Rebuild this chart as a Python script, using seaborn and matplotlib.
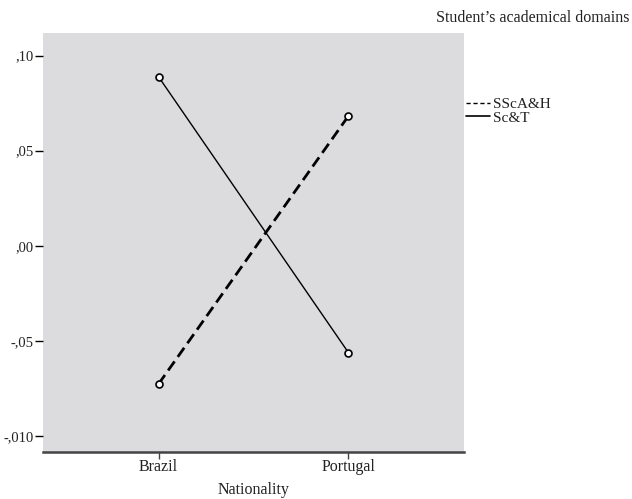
import matplotlib
matplotlib.use("Agg")
import matplotlib.pyplot as plt
import seaborn as sns
import pandas as pd
from matplotlib.lines import Line2D

# Data
nationalities = ["Brazil", "Portugal"]
domains = ["SScA&H", "Sc&T"]
sscah_values = [-0.0728, 0.0683]
sct_values = [0.0889, -0.0563]
ytick_values = [0.10, 0.05, 0.00, -0.05, -0.10]
ytick_labels = [",10", ",05", ",00", "-,05", "-,010"]
legend_title = "Student\u2019s academical domains"
x_label = "Nationality"

df = pd.DataFrame({
    "Nationality": nationalities * 2,
    "Domain": [domains[0]] * 2 + [domains[1]] * 2,
    "Mean": sscah_values + sct_values,
})

sns.set_theme(style="white")
plt.rcParams["font.family"] = ["Liberation Serif", "DejaVu Serif"]

fig = plt.figure(figsize=(6.32, 4.99), dpi=100)
ax = fig.add_axes([43 / 632, 1 - 452.3 / 499, (464 - 43) / 632, (452.3 - 33) / 499])
ax.set_facecolor("#dcdcde")

sub1 = df[df["Domain"] == domains[0]]
sub2 = df[df["Domain"] == domains[1]]
sns.lineplot(data=sub1, x="Nationality", y="Mean", ax=ax, color="black",
             linewidth=2.0, linestyle=(0, (4, 2)), marker="o", markersize=5,
             markerfacecolor="white", markeredgecolor="black", markeredgewidth=1.2,
             sort=False, legend=False)
sns.lineplot(data=sub2, x="Nationality", y="Mean", ax=ax, color="black",
             linewidth=1.0, marker="o", markersize=5,
             markerfacecolor="white", markeredgecolor="black", markeredgewidth=1.2,
             sort=False, legend=False)

ax.set_xlim(-0.608, 1.608)
ax.set_ylim(-0.1087, 0.1119)
ax.set_yticks(ytick_values)
ax.set_yticklabels(ytick_labels, fontsize=10.5)
ax.set_xticks(range(len(nationalities)))
ax.set_xticklabels(nationalities, fontsize=11.5)

for s in ["top", "right", "left"]:
    ax.spines[s].set_visible(False)
ax.spines["bottom"].set_color("#444444")
ax.spines["bottom"].set_linewidth(1.8)

ax.tick_params(axis="y", which="both", left=True, length=6, width=1, color="black", pad=1, labelcolor="#222222")
ax.tick_params(axis="x", which="both", bottom=True, length=5, width=1, color="#444444", pad=0, labelcolor="#222222")

ax.set_xlabel(x_label, fontsize=11.5, color="#222222", labelpad=5)
ax.set_ylabel("")

fig.text(629 / 632, 1 - 18 / 499, legend_title, ha="right", va="center", fontsize=11.5, color="#222222")

handles = [
    Line2D([], [], color="black", linewidth=1.0, linestyle=(0, (3, 2))),
    Line2D([], [], color="black", linewidth=1.2, linestyle="-"),
]
leg = fig.legend(handles, domains, loc="center left",
                 bbox_to_anchor=(466 / 632, 1 - 111 / 499), bbox_transform=fig.transFigure,
                 frameon=False, fontsize=11, handlelength=1.6, handletextpad=0.15,
                 borderpad=0, borderaxespad=0, labelspacing=0.0)
for t in leg.get_texts():
    t.set_color("#222222")

fig.savefig("out.png", dpi=100)
